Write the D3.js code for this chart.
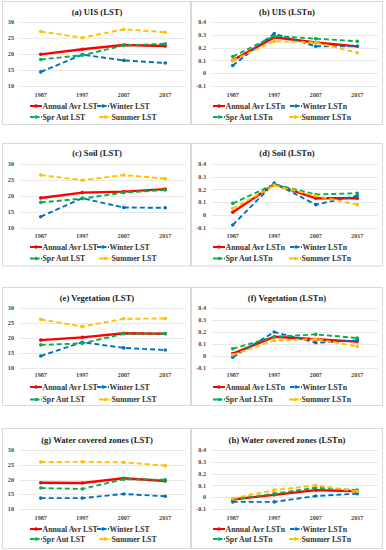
<!DOCTYPE html>
<html>
<head>
<meta charset="utf-8">
<script src="https://cdn.jsdelivr.net/npm/d3@7"></script>
<style>
  html, body { margin: 0; padding: 0; background: #fff; }
  svg { display: block; }
  text { font-family: "Liberation Serif", "Times New Roman", serif; font-weight: bold; }
</style>
</head>
<body>
<svg id="chart" width="386" height="550"></svg>
<script>
// ---------- DATA ----------
const years = ["1987", "1997", "2007", "2017"];
const seriesNames = ["Annual Avr", "Winter", "Spr Aut", "Summer"];
const seriesColors = ["#FF0000", "#0070C0", "#00B050", "#FFC000"];

const lstTicks = [10, 15, 20, 25, 30];
const lstnTicks = [-0.1, 0, 0.1, 0.2, 0.3, 0.4];
const lstnTickLabels = ["-0.1", "0", "0.1", "0.2", "0.3", "0.4"];

const panelTitles = [
  "(a) UIS (LST)", "(b) UIS (LSTn)",
  "(c) Soil (LST)", "(d) Soil (LSTn)",
  "(e) Vegetation (LST)", "(f) Vegetation (LSTn)",
  "(g) Water covered zones (LST)", "(h) Water covered zones (LSTn)"
];

// each: [Annual, Winter, SprAut, Summer]
const uisLST = [
  [19.9, 21.5, 22.8, 22.5],
  [14.4, 19.8, 18.0, 17.2],
  [18.3, 19.6, 22.7, 23.2],
  [27.0, 25.1, 27.7, 26.8]
];
const uisLSTn = [
  [0.10, 0.28, 0.24, 0.21],
  [0.06, 0.31, 0.21, 0.21],
  [0.13, 0.29, 0.27, 0.25],
  [0.10, 0.25, 0.24, 0.16]
];
const soilLST = [
  [19.3, 21.0, 21.3, 22.1],
  [13.4, 19.2, 16.3, 16.2],
  [17.9, 19.1, 21.0, 21.8],
  [26.5, 24.9, 26.5, 25.4]
];
const soilLSTn = [
  [0.02, 0.24, 0.13, 0.13],
  [-0.08, 0.25, 0.08, 0.15],
  [0.09, 0.24, 0.16, 0.17],
  [0.05, 0.23, 0.15, 0.08]
];
const vegLST = [
  [19.3, 20.2, 21.6, 21.4],
  [14.0, 18.6, 16.7, 16.0],
  [17.7, 18.2, 21.4, 21.5],
  [26.2, 23.8, 26.4, 26.5]
];
const vegLSTn = [
  [0.02, 0.16, 0.14, 0.12],
  [-0.01, 0.20, 0.11, 0.13],
  [0.06, 0.16, 0.18, 0.15],
  [0.01, 0.13, 0.14, 0.08]
];
const waterLST = [
  [18.9, 18.8, 20.4, 19.5],
  [13.7, 13.7, 15.1, 14.3],
  [17.1, 16.8, 20.1, 19.9],
  [25.9, 26.0, 25.8, 24.7]
];
const waterLSTn = [
  [-0.02, 0.02, 0.06, 0.05],
  [-0.04, -0.04, 0.01, 0.03],
  [-0.02, 0.03, 0.08, 0.06],
  [-0.01, 0.06, 0.10, 0.05]
];

const panelData = [uisLST, uisLSTn, soilLST, soilLSTn, vegLST, vegLSTn, waterLST, waterLSTn];

// ---------- LAYOUT ----------
const cols = [
  { bx0: 2, bx1: 190, px0: 20, px1: 186, labelX: 14, legX: [30, 97], legX2: [30, 99], titleX: 97 },
  { bx0: 191, bx1: 382, px0: 212, px1: 378, labelX: 206, legX: [213, 290], legX2: [213, 289], titleX: 287 }
];
const rows = [
  { by0: 1, by1: 124, title: 12, top: 22, bottom: 86, xlab: 95, leg: [106, 117] },
  { by0: 143, by1: 265.5, title: 152.5, top: 164, bottom: 227.5, xlab: 236, leg: [247, 258.5] },
  { by0: 287, by1: 405, title: 297.5, top: 308, bottom: 368, xlab: 375, leg: [387, 399.5] },
  { by0: 428, by1: 548, title: 440, top: 450, bottom: 509, xlab: 518, leg: [529, 539] }
];

const svg = d3.select("#chart");

panelData.forEach((data, i) => {
  const col = cols[i % 2];
  const row = rows[Math.floor(i / 2)];
  const isN = i % 2 === 1;
  const ticks = isN ? lstnTicks : lstTicks;
  const suffix = isN ? " LSTn" : " LST";
  const g = svg.append("g");

  // border
  g.append("rect")
    .attr("x", col.bx0 + 0.5).attr("y", row.by0 + 0.5)
    .attr("width", col.bx1 - col.bx0).attr("height", row.by1 - row.by0)
    .attr("fill", "#fff").attr("stroke", "#d9d9d9").attr("stroke-width", 1);

  const x = d3.scalePoint().domain(years).range([col.px0, col.px1]).padding(0.5);
  const y = d3.scaleLinear().domain(d3.extent(ticks)).range([row.bottom, row.top]);

  // gridlines
  g.selectAll(".grid").data(ticks).join("line")
    .attr("x1", col.px0).attr("x2", col.px1)
    .attr("y1", d => Math.round(y(d)) + 0.5).attr("y2", d => Math.round(y(d)) + 0.5)
    .attr("stroke", "#e3e3e3").attr("stroke-width", 0.8);

  // y tick labels
  g.selectAll(".yl").data(ticks).join("text")
    .attr("x", col.labelX).attr("y", d => y(d))
    .attr("dy", "0.35em").attr("text-anchor", "end")
    .attr("font-size", 6.2).attr("fill", "#444")
    .text((d, k) => isN ? lstnTickLabels[k] : d);

  // x tick labels
  g.selectAll(".xl").data(years).join("text")
    .attr("x", d => x(d)).attr("y", row.xlab)
    .attr("dy", "0.35em").attr("text-anchor", "middle")
    .attr("font-size", 6.2).attr("fill", "#444")
    .text(d => d);

  // title
  g.append("text")
    .attr("x", col.titleX).attr("y", row.title)
    .attr("dy", "0.35em").attr("text-anchor", "middle")
    .attr("font-size", 8.6).attr("fill", "#222")
    .text(panelTitles[i]);

  // series
  const line = d3.line().x((d, k) => x(years[k])).y(d => y(d));
  data.forEach((vals, s) => {
    g.append("path")
      .attr("d", line(vals))
      .attr("fill", "none")
      .attr("stroke", seriesColors[s])
      .attr("stroke-width", s === 0 ? 2.4 : 1.9)
      .attr("stroke-dasharray", s === 0 ? null : "5,3");
    g.selectAll(".m" + s).data(vals).join("circle")
      .attr("cx", (d, k) => x(years[k])).attr("cy", d => y(d))
      .attr("r", 1.8).attr("fill", seriesColors[s]);
  });

  // legend
  seriesNames.forEach((name, s) => {
    const ly = row.leg[Math.floor(s / 2)];
    const lx = (s < 2 ? col.legX : col.legX2)[s % 2];
    const lg = g.append("g");
    lg.append("line")
      .attr("x1", lx).attr("x2", lx + 12).attr("y1", ly).attr("y2", ly)
      .attr("stroke", seriesColors[s]).attr("stroke-width", 2)
      .attr("stroke-dasharray", s === 0 ? null : "4,1.5");
    lg.append("circle").attr("cx", lx + 6).attr("cy", ly).attr("r", 1.8).attr("fill", seriesColors[s]);
    lg.append("text")
      .attr("x", lx + 12.5).attr("y", ly).attr("dy", "0.35em")
      .attr("font-size", 7.8).attr("fill", "#333")
      .text(name + suffix);
  });
});
</script>
</body>
</html>
